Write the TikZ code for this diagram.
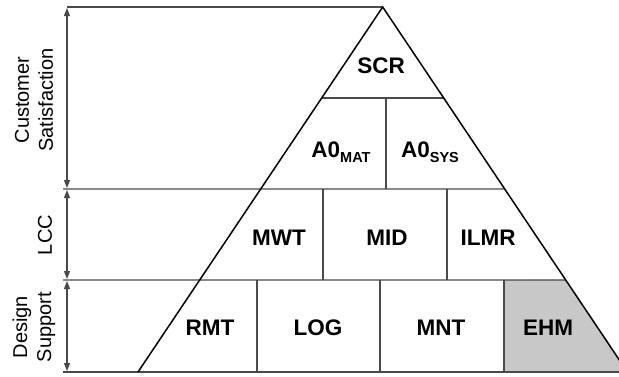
\documentclass[tikz,border=0pt]{standalone}
\usepackage{fontspec}
\setmainfont{Liberation Sans}
\usepackage{tikz}
\usetikzlibrary{arrows.meta,calc}
\definecolor{ink}{HTML}{000000}
\definecolor{rulec}{HTML}{4A4A4A}
\definecolor{ehmgrey}{HTML}{C8C8C8}
\tikzset{
  edge/.style={draw=ink, line width=1.5pt, line join=miter},
  rule/.style={draw=rulec, line width=1.4pt},
  span/.style={{Triangle[length=8pt,width=6pt]}-{Triangle[length=8pt,width=6pt]}, draw=rulec, line width=1.3pt},
  blk/.style={font=\fontsize{22.5}{24}\selectfont\bfseries, inner sep=0pt},
  side/.style={font=\fontsize{20}{24}\selectfont, rotate=90, align=center, inner sep=0pt},
}
\newcommand{\subtag}[1]{\raisebox{-5pt}{\fontsize{14.5}{14.5}\selectfont #1}}

\begin{document}
\begin{tikzpicture}[x=1pt, y=-1pt]
  \useasboundingbox (0,0) rectangle (619,376);
  \clip (0,0) rectangle (619,376);
  % pyramid corners, rows at y = 98, 189, 280
  \coordinate (top) at (382.7,7);
  \coordinate (bl) at (138,372);
  \coordinate (br) at (627.4,372);
  \coordinate (l1) at ($(top)!0.2493!(bl)$);
  \coordinate (r1) at ($(top)!0.2493!(br)$);
  \coordinate (l2) at ($(top)!0.4986!(bl)$);
  \coordinate (r2) at ($(top)!0.4986!(br)$);
  \coordinate (l3) at ($(top)!0.7479!(bl)$);
  \coordinate (r3) at ($(top)!0.7479!(br)$);
  \coordinate (axtop) at (67,7);
  \coordinate (axa) at (67,189);
  \coordinate (axb) at (67,280);
  \coordinate (axbot) at (67,372);

  \fill[ehmgrey] (504,280) -- (r3) -- (br) -- (504,372) -- cycle;

  \draw[rule] (axtop) -- (top);
  \draw[rule] (63,189) -- (r2);
  \draw[rule] (63,280) -- (r3);
  \draw[rule] (63,372) -- (br);
  \draw[rule] (l1) -- (r1);
  \draw[rule] (386,98) -- (386,189);
  \foreach \x in {323,447} \draw[rule] (\x,189) -- (\x,280);
  \foreach \x in {257,380,504} \draw[rule] (\x,280) -- (\x,372);
  \draw[edge] (bl) -- (top) -- (br);

  \draw[span] ($(axtop)+(0,1)$) -- ($(axa)+(0,-1)$);
  \draw[span] ($(axa)+(0,1)$) -- ($(axb)+(0,-1)$);
  \draw[span] ($(axb)+(0,1)$) -- ($(axbot)+(0,-1)$);

  \node[side] (cs) at (34,100) {Customer\\Satisfaction};
  \node[side] (lcc) at (45,235) {LCC};
  \node[side] (ds) at (34,327) {Design\\Support};

  \node[blk] (scr) at (381,66) {SCR};
  \node[blk] (a0m) at (341,152) {A0\subtag{MAT}};
  \node[blk] (a0s) at (430,152) {A0\subtag{SYS}};
  \node[blk] (mwt) at (279,238) {MWT};
  \node[blk] (mid) at (387,238) {MID};
  \node[blk] (ilmr) at (488,238) {ILMR};
  \node[blk] (rmt) at (210,328) {RMT};
  \node[blk] (log) at (318,328) {LOG};
  \node[blk] (mnt) at (441,328) {MNT};
  \node[blk] (ehm) at (548,328) {EHM};
\end{tikzpicture}
\end{document}
